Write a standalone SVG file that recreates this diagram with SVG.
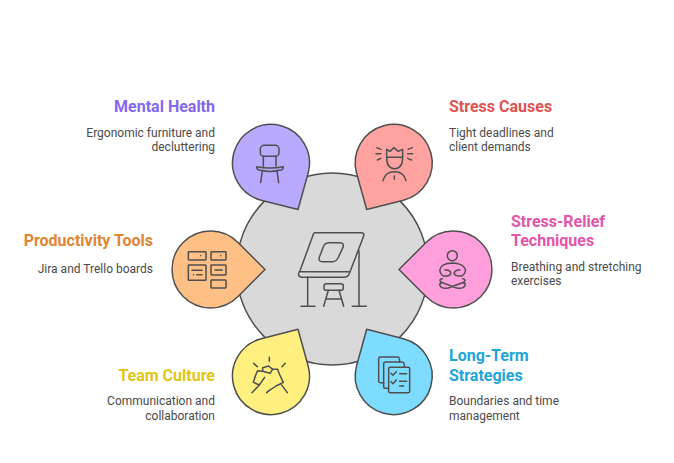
<svg xmlns="http://www.w3.org/2000/svg" width="674" height="463" viewBox="0 0 674 463">
<style>
text{font-family:Roboto,"Liberation Sans",sans-serif}
.t{font-size:16px;font-weight:700}
.b{font-size:12px;fill:#4a4a4a}
.e{text-anchor:end}
.s{stroke:#4f4f4f;stroke-width:1.5;stroke-linejoin:round}
.i{fill:none;stroke:#4f4f4f;stroke-width:4.5;stroke-linecap:round;stroke-linejoin:round}
</style>
<rect width="674" height="463" fill="#fff"/>
<g id="center">
<circle cx="332.3" cy="269" r="96" fill="#d9d9d9" class="s"/>
<g class="i" transform="translate(160,220) scale(.33333)">
<path d="M465 38H603Q614 38 611 48L569 158Q565 172 552 172H427Q414 172 416 160Q417 156 420 152L459 46Q461 38 465 38Z"/>
<path d="M420 155H568"/>
<path d="M508 68H540Q553 68 549 82L534 114Q529 125 517 125H488Q474 125 478 112L491 78Q495 68 508 68Z"/>
<path d="M443 172V259M423 259H465M597 92V259M577 259H619"/>
<rect x="492" y="191" width="58" height="20" rx="7"/>
<path d="M505 211L491 259M537 211L551 259M499 237H543"/>
</g>
</g>
<g id="mental-health">
<path d="M298 209.5L261.2 200.2A38.5 38.5 0 1 1 308.1 173.2Z" fill="#b9a9ff" class="s"/>
<g class="i" transform="translate(220,110) scale(.33333)">
<rect x="121" y="106" width="56" height="33" rx="11"/>
<path d="M130 139V169M168 139V169"/>
<path d="M110 170Q150 178 190 170Q190 180 178 181Q150 188 122 181Q110 180 110 170Z"/>
<path d="M127 183L122 218M171 183L176 218"/>
</g>
<text class="t e" x="215" y="112" fill="#8468f0">Mental Health</text>
<text class="b e" x="215" y="137">Ergonomic furniture and</text>
<text class="b e" x="215" y="151">decluttering</text>
</g>
<g id="stress-causes">
<path d="M366.7 209.5L403.5 200.2A38.5 38.5 0 1 0 356.6 173.2Z" fill="#ffa3a0" class="s"/>
<g class="i" transform="translate(220,110) scale(.33333)">
<path d="M500 142V118L510 124L522 113L535 124L548 118V142H500"/>
<path d="M500 142Q500 176 524 176Q548 176 548 142"/>
<path d="M489 212Q495 185 524 185Q552 185 558 212M523 198V208"/>
<path d="M470 113L483 118M468 131H483M472 150L483 145M577 113L564 118M578 131H563M575 150L563 145"/>
</g>
<text class="t" x="449" y="112" fill="#e0534f">Stress Causes</text>
<text class="b" x="449" y="137">Tight deadlines and</text>
<text class="b" x="449" y="151">client demands</text>
</g>
<g id="stress-relief">
<path d="M399 269.5L426 242.5A38.5 38.5 0 1 1 426 296.5Z" fill="#ff9fdb" class="s"/>
<g class="i" transform="translate(390,220) scale(.33333)">
<circle cx="187" cy="107" r="15"/>
<path d="M165 150Q180 148 183 160Q178 170 160 168Q148 160 150 148Q154 130 187 129Q220 130 226 148Q228 160 215 168Q196 170 192 160Q196 148 210 150"/>
<path d="M157 176Q146 178 152 186L200 204Q225 208 226 192L218 187M218 176Q229 178 223 186L175 204Q150 208 149 192L157 187"/>
</g>
<text class="t" x="511" y="227" fill="#e255a8">Stress-Relief</text>
<text class="t" x="511" y="246" fill="#e255a8">Techniques</text>
<text class="b" x="511" y="271">Breathing and stretching</text>
<text class="b" x="511" y="285">exercises</text>
</g>
<g id="long-term">
<path d="M366.7 329.3L403.5 338.8A38.5 38.5 0 1 1 356.6 365.8Z" fill="#7ddcff" class="s"/>
<g class="i" transform="translate(220,320) scale(.33333)">
<rect x="506" y="142" width="63" height="76" rx="4"/>
<path d="M506 205H497Q491 205 491 200V132Q491 126 497 126H548Q553 126 553 142"/>
<path d="M491 188H481Q476 188 476 183V116Q476 111 481 111H534Q539 111 539 126"/>
<path d="M513 160L519 166L529 155M513 185L519 191L529 180M539 161H560M539 184H560M539 198H551"/>
</g>
<text class="t" x="449" y="361" fill="#1ea5db">Long-Term</text>
<text class="t" x="449" y="381" fill="#1ea5db">Strategies</text>
<text class="b" x="449" y="405">Boundaries and time</text>
<text class="b" x="449" y="420">management</text>
</g>
<g id="team-culture">
<path d="M298 329.3L261.2 338.8A38.5 38.5 0 1 0 308.1 365.8Z" fill="#fff080" class="s"/>
<g class="i" transform="translate(220,320) scale(.33333)">
<path d="M148 112V124M101 130L112 140M196 130L186 140"/>
<path d="M96 218L118 195L100 187L107 165L113 152L128 154L128 143L146 138L158 148L173 148L178 162L190 187L168 198L147 212M140 218L147 212M202 218L184 194"/>
<path d="M128 154L150 160L158 148M118 195L134 172"/>
</g>
<text class="t e" x="215" y="381" fill="#e0c613">Team Culture</text>
<text class="b e" x="215" y="405">Communication and</text>
<text class="b e" x="215" y="420">collaboration</text>
</g>
<g id="productivity-tools">
<path d="M265 269.5L238 242.5A38.5 38.5 0 1 0 238 296.5Z" fill="#ffc085" class="s"/>
<g class="i" transform="translate(160,220) scale(.33333)">
<rect x="85" y="95" width="53" height="25" rx="2"/><rect x="153" y="95" width="45" height="25" rx="2"/>
<rect x="85" y="135" width="53" height="46" rx="2"/><rect x="153" y="135" width="45" height="30" rx="2"/>
<rect x="153" y="180" width="45" height="24" rx="2"/>
<path d="M122 107h.1M182 107h.1M96 151H126M110 164H126M100 164h.1M165 150H187"/>
</g>
<text class="t e" x="153" y="246" fill="#e08534">Productivity Tools</text>
<text class="b e" x="153" y="273">Jira and Trello boards</text>
</g>
</svg>
